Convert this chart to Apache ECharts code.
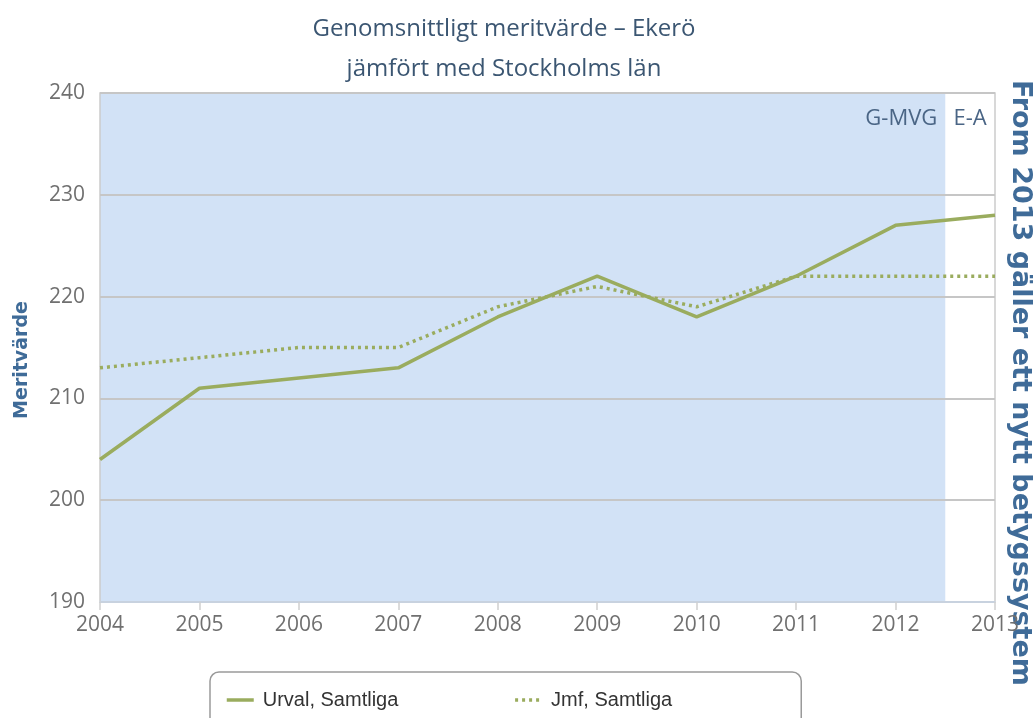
<!DOCTYPE html>
<html><head><meta charset="utf-8">
<script src="https://cdn.jsdelivr.net/npm/echarts@6/dist/echarts.min.js"></script>
<style>html,body{margin:0;padding:0;background:#fff}#c{width:1033px;height:718px}</style>
</head><body><div id="c"></div>
<script>
const years = [2004, 2005, 2006, 2007, 2008, 2009, 2010, 2011, 2012, 2013];
const urval = [204, 211, 212, 213, 218, 222, 218, 222, 227, 228];
const jmf = [213, 214, 215, 215, 219, 221, 219, 222, 222, 222];
const bandSplit = 2012.5;
const titleLines = ['Genomsnittligt meritvärde – Ekerö', 'jämfört med Stockholms län'];
const seriesNames = ['Urval, Samtliga', 'Jmf, Samtliga'];

const chart = echarts.init(document.getElementById('c'));
const lineColor = '#9aac5e';
const labelFont = 'Open Sans';
chart.setOption({
  animation: false,
  title: {
    text: titleLines.join('\n'), left: 499, top: 4, textAlign: 'center',
    textStyle: {fontFamily: 'Open Sans', fontSize: 24, fontWeight: 'normal', color: '#3b5672', lineHeight: 40}
  },
  grid: {left: 100, right: 38, top: 93, bottom: 116, show: true, borderColor: '#cccccc', borderWidth: 1.5, z: 1},
  legend: {
    left: 210, top: 672, orient: 'horizontal',
    padding: [18, 129, 40, 15], itemGap: 115, itemWidth: 27, itemHeight: 14,
    borderColor: '#9a9a9a', borderWidth: 1.5, borderRadius: 9,
    itemStyle: {opacity: 0},
    lineStyle: {width: 3.5},
    textStyle: {fontFamily: 'Liberation Sans', fontSize: 20, color: '#333', padding: [0, 0, 0, 4]},
    data: seriesNames
  },
  xAxis: {
    type: 'value', min: 2004, max: 2013, interval: 1, z: 1,
    axisLine: {show: true, lineStyle: {color: '#c9d6e8', width: 1.5}},
    axisTick: {show: true, length: 8, lineStyle: {color: '#d0d0d0', width: 1.5}},
    axisLabel: {formatter: v => String(v), fontFamily: labelFont, fontSize: 21, color: '#707070', margin: 13},
    splitLine: {show: false}
  },
  yAxis: {
    type: 'value', min: 190, max: 240, interval: 10, z: 1,
    axisLine: {show: false}, axisTick: {show: false},
    axisLabel: {fontFamily: labelFont, fontSize: 21, color: '#707070', margin: 15},
    splitLine: {lineStyle: {color: '#c6c6c6', width: 2}}
  },
  graphic: [
    {type: 'text', x: 22, y: 360, rotation: Math.PI / 2,
      style: {text: 'Meritvärde', fontFamily: 'DejaVu Sans', fontWeight: 'bold', fontSize: 19, fill: '#3f6b98', textAlign: 'center', textVerticalAlign: 'middle'}},
    {type: 'text', x: 1020, y: 383, rotation: -Math.PI / 2,
      style: {text: 'From 2013 gäller ett nytt betygssystem', fontFamily: 'DejaVu Sans', fontWeight: 'bold', fontSize: 27, fill: '#3f6b98', textAlign: 'center', textVerticalAlign: 'middle'}}
  ],
  series: [
    {
      name: 'band', type: 'line', z: 0, data: [], silent: true,
      markArea: {
        silent: true, z: 0,
        data: [
          [{xAxis: 2004, itemStyle: {color: '#d2e2f6'},
            label: {show: true, position: 'insideTopRight', distance: 0, offset: [-8, 15], formatter: 'G-MVG', fontFamily: labelFont, fontSize: 22, color: '#4a6585'}},
           {xAxis: bandSplit}],
          [{xAxis: bandSplit, itemStyle: {color: 'rgba(255,255,255,0)'},
            label: {show: true, position: 'insideTop', distance: 0, offset: [0, 15], formatter: 'E-A', fontFamily: labelFont, fontSize: 22, color: '#4a6585'}},
           {xAxis: 2013}]
        ]
      }
    },
    {
      name: seriesNames[0], type: 'line', z: 3,
      data: years.map((y, i) => [y, urval[i]]),
      showSymbol: false, symbol: 'none',
      itemStyle: {color: lineColor},
      lineStyle: {color: lineColor, width: 3.5}
    },
    {
      name: seriesNames[1], type: 'line', z: 2,
      data: years.map((y, i) => [y, jmf[i]]),
      showSymbol: false, symbol: 'none',
      itemStyle: {color: lineColor},
      lineStyle: {color: lineColor, width: 3.5, type: [3, 4]}
    }
  ]
});
</script></body></html>
